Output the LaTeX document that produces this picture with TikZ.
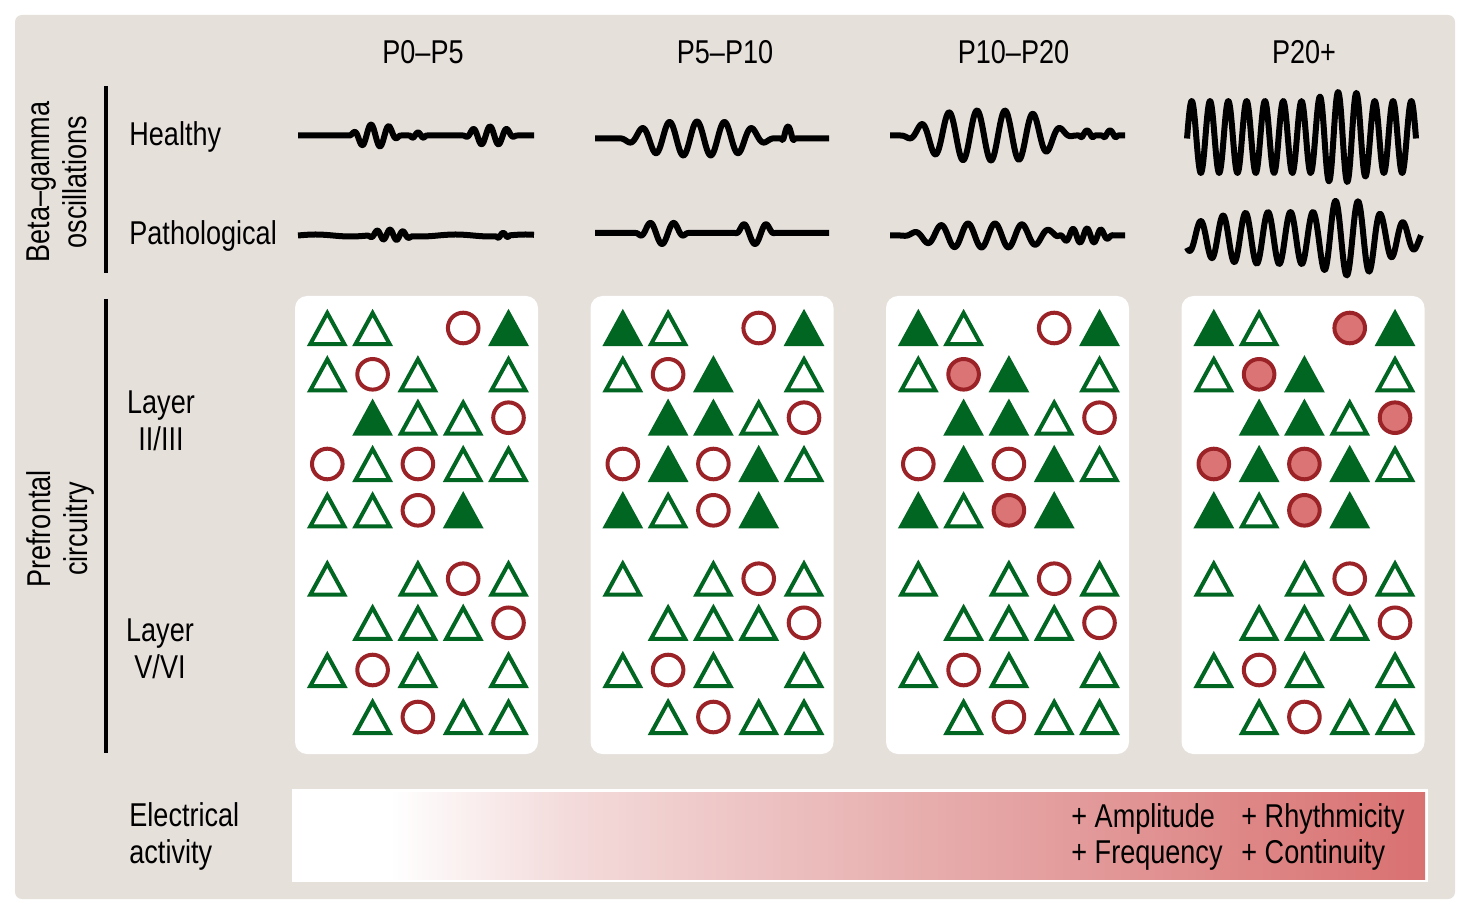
\documentclass[tikz,border=0pt]{standalone}
\usepackage{fontspec}
\setmainfont{Liberation Sans}[FakeStretch=0.82]
\definecolor{bgc}{HTML}{E6E0DB}
\definecolor{grn}{HTML}{006622}
\definecolor{rd}{HTML}{9B2226}
\definecolor{pk}{HTML}{DB7474}
\definecolor{pkA}{HTML}{F4DCDC}
\definecolor{pkB}{HTML}{E8B0B0}
\definecolor{barend}{HTML}{D97171}
\tikzset{
  lbl/.style={font=\fontsize{16.5}{18.5}\selectfont, inner sep=0pt, text=black},
  wave/.style={line width=3pt, line join=round, black},
  tri/.style={draw=grn, line width=2pt, line join=miter},
  trifill/.style={draw=grn, fill=grn, line width=2pt, line join=miter},
  circo/.style={draw=rd, fill=white, line width=2pt},
  circf/.style={draw=rd, fill=pk, line width=2pt},
  panel/.style={fill=white, rounded corners=6pt},
  vbar/.style={line width=2.15pt, black}
}
\newcommand\symT[2]{\draw[tri] (#1,#2-15) -- ++(17,31) -- ++(-34,0) -- cycle;}
\newcommand\symF[2]{\draw[trifill] (#1,#2-15) -- ++(17,31) -- ++(-34,0) -- cycle;}
\newcommand\symO[2]{\draw[circo] (#1,#2) circle[radius=15.3];}
\newcommand\symC[2]{\draw[circf] (#1,#2) circle[radius=15.3];}
\newcommand\symN[2]{}
\newcommand\drawgrid[2]{%
  \foreach \rw [count=\ri from 0] in {#2} {%
    \foreach \sy [count=\ci from 0] in \rw {%
      \pgfmathsetmacro\xx{#1+32.3+45.3*\ci}%
      \pgfmathsetmacro\yy{{328,374.3,417.7,464,510.3,578.7,622.8,670,717}[\ri]}%
      \csname sym\sy\endcsname{\xx}{\yy}%
    }}}
\begin{document}
\begin{tikzpicture}[x=0.5pt,y=-0.5pt,
  declare function={
    sq(\qa)=\qa*\qa;
    wn(\qa,\qb,\qc)=sq(max(0,1-sq(sq(min(1.2,abs((\qa-\qb)/\qc))))));
    bur(\qa,\qb,\qc,\qd,\qe,\qf)=\qd*wn(\qa,\qb,\qc)*cos((\qa-\qf)/\qe*360);
  }]
\useasboundingbox (0,0) rectangle (1470,914);
\fill[white] (0,0) rectangle (1470,914);
\fill[bgc, rounded corners=3.5pt] (15,15) rectangle (1455,899);

% headers
\node[lbl, anchor=base] (h1) at (423,64) {P0–P5};
\node[lbl, anchor=base] (h2) at (725,64) {P5–P10};
\node[lbl, anchor=base] (h3) at (1013.5,64) {P10–P20};
\node[lbl, anchor=base] (h4) at (1304,64) {P20+};

% left labels
\node[lbl, rotate=90, align=center] (osc) at (56.5,182) {Beta–gamma\\oscillations};
\node[lbl, rotate=90, align=center] (pfc) at (60,529) {Prefrontal\\circuitry};
\draw[vbar] (106,86) -- (106,273);
\draw[vbar] (106,299) -- (106,753);
\node[lbl, anchor=base west] (healthy) at (129,146) {Healthy};
\node[lbl, anchor=base west] (patho) at (129,245) {Pathological};
\node[lbl, align=center] (l23) at (161,420.5) {Layer\\II/III};
\node[lbl, align=center] (l56) at (160,649) {Layer\\V/VI};
\node[lbl, align=left, anchor=west] (elec) at (129,836) {Electrical\\activity};

% waveforms
\draw[wave] plot[domain=298:534, samples=300, smooth]
  (\x, {135.5 - bur(\x,375,26,11,18,371) - bur(\x,418,9,3,12,418) - bur(\x,490,27,9,17,490)});
\draw[wave] plot[domain=298:534, samples=300, smooth]
  (\x, {235.5 - bur(\x,390,24,5,13,390) - bur(\x,503,7,3,12,503) - 1*sin((\x-298)/70*360)});
\draw[wave] plot[domain=595:829, samples=300, smooth]
  (\x, {138.5 - bur(\x,697,80,17,27.5,697) - bur(\x,788,7,12,18,788)});
\draw[wave] plot[domain=595:829, samples=300, smooth]
  (\x, {233 - bur(\x,662,26,11,24,650) - bur(\x,755,20,11,24,743)});
\draw[wave] plot[domain=890:1125, samples=300, smooth]
  (\x, {135.5 - bur(\x,988,88,25,28,977) - bur(\x,1087,8,5,16,1087) - bur(\x,1110,8,5,16,1110)});
\draw[wave] plot[domain=890:1125, samples=300, smooth]
  (\x, {235.5 - bur(\x,985,85,12,27,995) - bur(\x,1085,30,7,14,1087)});
\draw[wave] plot[domain=1187:1416, samples=400, smooth]
  (\x, {137 - (36 + 9*wn(\x,1342,30))*cos((\x-1210)/18.3*360)});
\draw[wave] plot[domain=1187:1421, samples=400, smooth]
  (\x, {238 - (26*wn(\x,1300,150) + 12*wn(\x,1350,35))*cos((\x-1223)/22.5*360)});

% panels
\foreach \k in {0,...,3} {
  \fill[panel] (295+295.5*\k,296) rectangle (538+295.5*\k,754);
}
\drawgrid{295}{{T,T,N,O,F},{T,O,T,N,T},{N,F,T,T,O},{O,T,O,T,T},{T,T,O,F,N},{T,N,T,O,T},{N,T,T,T,O},{T,O,T,N,T},{N,T,O,T,T}}
\drawgrid{590.5}{{F,T,N,O,F},{T,O,F,N,T},{N,F,F,T,O},{O,F,O,F,T},{F,T,O,F,N},{T,N,T,O,T},{N,T,T,T,O},{T,O,T,N,T},{N,T,O,T,T}}
\drawgrid{886}{{F,T,N,O,F},{T,C,F,N,T},{N,F,F,T,O},{O,F,O,F,T},{F,T,C,F,N},{T,N,T,O,T},{N,T,T,T,O},{T,O,T,N,T},{N,T,O,T,T}}
\drawgrid{1181.5}{{F,T,N,C,F},{T,C,F,N,T},{N,F,F,T,C},{C,F,C,F,T},{F,T,C,F,N},{T,N,T,O,T},{N,T,T,T,O},{T,O,T,N,T},{N,T,O,T,T}}

% electrical activity bar
\fill[white] (292,789) rectangle (1428,882);
\shade[left color=white, right color=pkA] (390,792) rectangle (560.5,879);
\shade[left color=pkA, right color=pkB] (560,792) rectangle (900.5,879);
\shade[left color=pkB, right color=barend] (900,792) rectangle (1425,879);
\node[lbl, anchor=base west] (amp) at (1071,827) {+ Amplitude};
\node[lbl, anchor=base west] (frq) at (1071,863) {+ Frequency};
\node[lbl, anchor=base west] (rhy) at (1241,827) {+ Rhythmicity};
\node[lbl, anchor=base west] (con) at (1241,863) {+ Continuity};
\end{tikzpicture}
\end{document}
